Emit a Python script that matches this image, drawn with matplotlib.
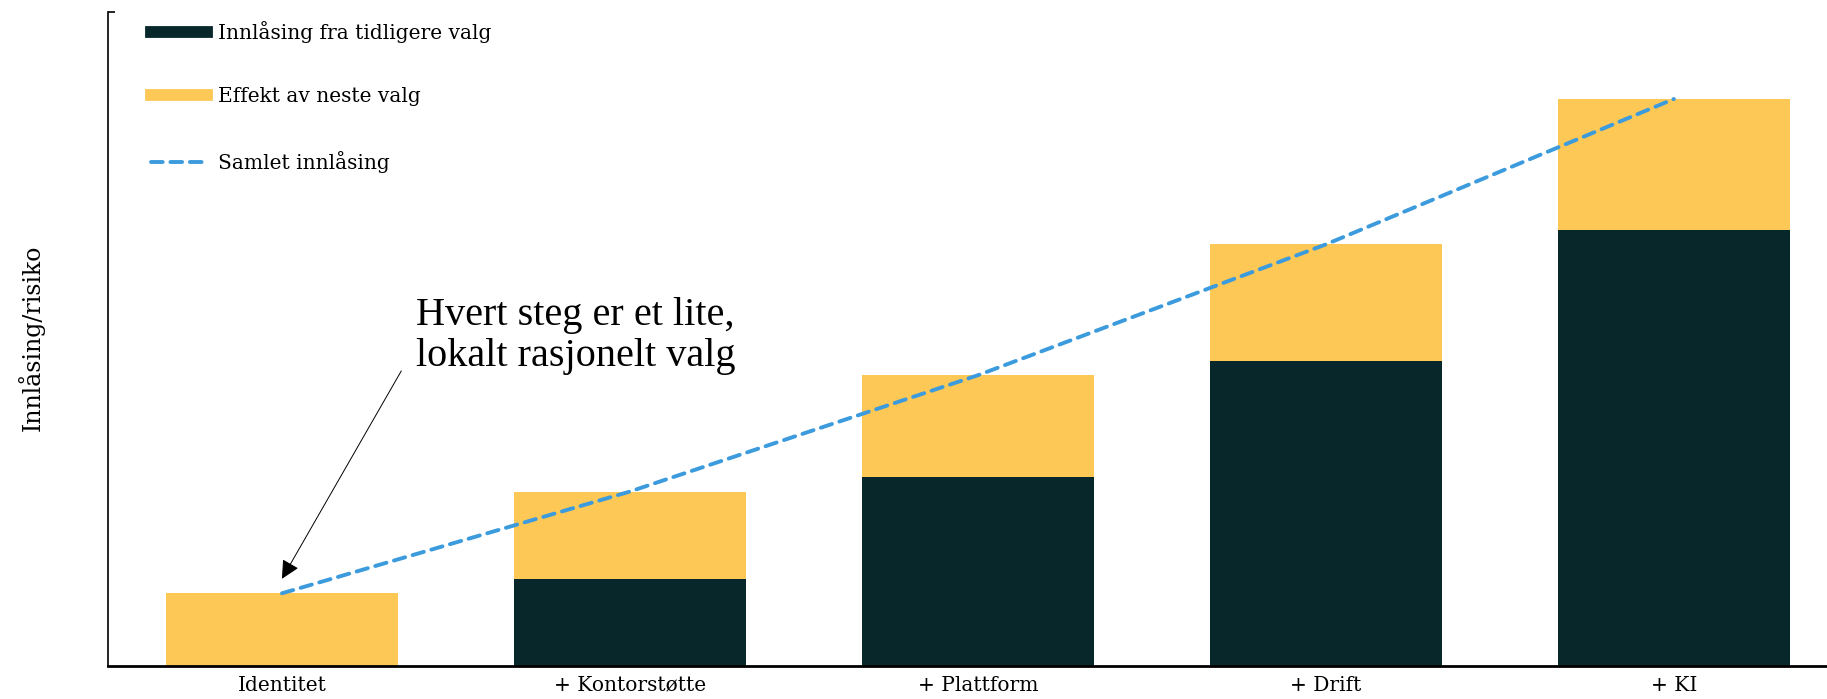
import matplotlib
matplotlib.use("Agg")
from matplotlib import pyplot as plt
from matplotlib.lines import Line2D
import numpy as np

steps = ["Identitet", "+ Kontorstøtte", "+ Plattform", "+ Drift", "+ KI"]
prior_lockin = [0.0, 1.2, 2.6, 4.2, 6.0]
next_effect = [1.0, 1.2, 1.4, 1.6, 1.8]
total_lockin = [1.0, 2.4, 4.0, 5.8, 7.8]

DARK = "#07272a"
YELLOW = "#fdc855"
BLUE = "#3b9bdc"

plt.rcParams["font.family"] = ["DejaVu Serif"]

fig = plt.figure(figsize=(18.27, 6.99), dpi=100)
ax = fig.add_axes([0.0591, 0.0472, 0.9409, 0.936])

x = np.arange(len(steps))
ax.bar(x, prior_lockin, width=0.667, color=DARK)
ax.bar(x, next_effect, width=0.667, bottom=prior_lockin, color=YELLOW)
ax.plot(x, total_lockin, color=BLUE, lw=2.8, linestyle=(0, (3.0, 2.0)),
        dash_capstyle="round")

ax.set_xlim(-0.5, 4.44)
ax.set_ylim(0, 9)
ax.set_xticks(x)
ax.set_xticklabels(steps, fontsize=14.5)
ax.tick_params(axis="x", length=0, pad=7)
ax.set_yticks([9])
ax.set_yticklabels([])
ax.tick_params(axis="y", direction="in", length=5, width=1.2)

for side in ("top", "right"):
    ax.spines[side].set_visible(False)
ax.spines["left"].set_linewidth(1.2)
ax.spines["bottom"].set_linewidth(2.0)

fig.text(31 / 1827, 1 - 338 / 699, "Innlåsing/risiko", rotation=90,
         ha="center", va="center", fontsize=17)

# callout pointing at the first step
ax.text(0.384, 5.07, "Hvert steg er et lite,\nlokalt rasjonelt valg",
        ha="left", va="top", fontsize=29, family="Liberation Serif",
        linespacing=1.12)
ax.annotate("", xy=(0.0, 1.2), xytext=(0.343, 4.06),
            arrowprops=dict(arrowstyle="-|>", color="black", lw=0.7,
                            mutation_scale=28, shrinkA=0, shrinkB=0,
                            facecolor=DARK))

handles = [
    Line2D([], [], color=DARK, lw=8.5),
    Line2D([], [], color=YELLOW, lw=8.5),
    Line2D([], [], color=BLUE, lw=2.8, linestyle=(0, (3.0, 2.0)),
           dash_capstyle="round"),
]
labels = ["Innlåsing fra tidligere valg", "Effekt av neste valg", "Samlet innlåsing"]
fig.legend(handles, labels, loc="upper left",
           bbox_to_anchor=(151 / 1827, 1 - 21 / 699), frameon=False,
           fontsize=14.5, handlelength=2.8, handletextpad=0.55,
           labelspacing=2.2, borderpad=0, borderaxespad=0)

fig.savefig("out.png", dpi=100)
